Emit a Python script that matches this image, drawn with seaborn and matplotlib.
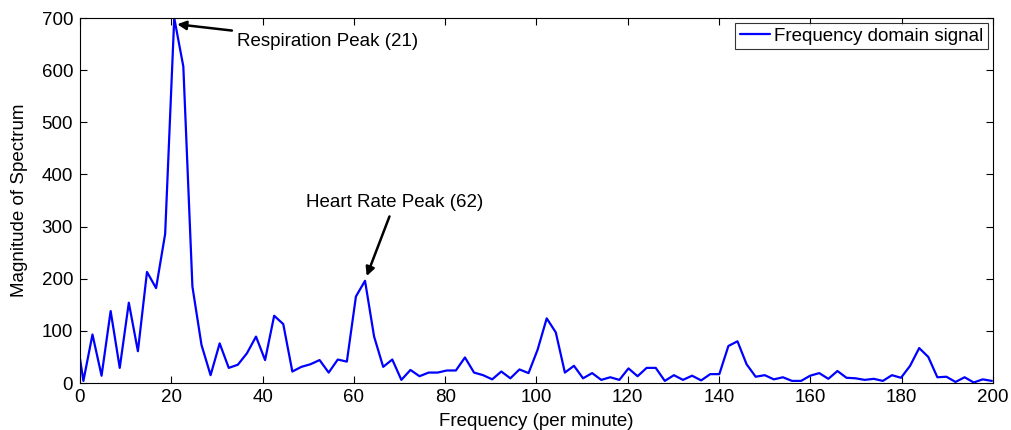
import matplotlib

matplotlib.use("Agg")
import matplotlib.pyplot as plt
import seaborn as sns

# frequency bins (per minute)
freq = [
    0.00, 0.75, 2.74, 4.73, 6.72, 8.71, 10.70, 12.69, 14.68, 16.67, 18.66,
    20.65, 22.64, 24.63, 26.62, 28.61, 30.60, 32.59, 34.58, 36.57, 38.56,
    40.55, 42.54, 44.53, 46.52, 48.51, 50.50, 52.49, 54.48, 56.47, 58.46,
    60.45, 62.44, 64.43, 66.42, 68.41, 70.40, 72.39, 74.38, 76.37, 78.36,
    80.35, 82.34, 84.33, 86.32, 88.31, 90.30, 92.29, 94.28, 96.27, 98.26,
    100.25, 102.24, 104.23, 106.22, 108.21, 110.20, 112.19, 114.18, 116.17, 118.16,
    120.15, 122.14, 124.13, 126.12, 128.11, 130.10, 132.09, 134.08, 136.07, 138.06,
    140.05, 142.04, 144.03, 146.02, 148.01, 150.00, 151.99, 153.98, 155.97, 157.96,
    159.95, 161.94, 163.93, 165.92, 167.91, 169.90, 171.89, 173.88, 175.87, 177.86,
    179.85, 181.84, 183.83, 185.82, 187.81, 189.80, 191.79, 193.78, 195.77, 197.76,
    199.75,
]

magnitude = [
    47, 4, 93, 14, 138, 29, 154, 61, 213, 182, 286,
    700, 607, 185, 73, 15, 76, 29, 35, 57, 89,
    44, 129, 113, 22, 31, 36, 44, 20, 45, 41,
    166, 196, 89, 31, 45, 6, 25, 13, 20, 20,
    24, 24, 49, 20, 15, 7, 22, 9, 26, 19,
    64, 124, 97, 20, 33, 9, 19, 6, 11, 6,
    28, 13, 29, 29, 4, 15, 6, 14, 5, 17,
    17, 71, 80, 36, 12, 15, 7, 11, 4, 4,
    14, 19, 8, 23, 10, 9, 6, 8, 4, 15,
    10, 33, 67, 50, 11, 12, 2, 11, 1, 7,
    4,
]

x_ticks = [0, 20, 40, 60, 80, 100, 120, 140, 160, 180, 200]
y_ticks = [0, 100, 200, 300, 400, 500, 600, 700]

FS = 13.5

sns.set_theme(style="ticks", rc={"text.color": "black", "axes.labelcolor": "black"})
plt.rcParams["font.family"] = ["Liberation Sans", "DejaVu Sans"]

fig = plt.figure(figsize=(10.11, 4.30), dpi=100)
ax = fig.add_axes([0.0791, 0.1093, 0.9031, 0.8488])

sns.lineplot(x=freq, y=magnitude, color="#0000FF", linewidth=1.6,
             label="Frequency domain signal", ax=ax)

ax.set_xlim(0, 200)
ax.set_ylim(0, 700)
ax.set_xticks(x_ticks)
ax.set_yticks(y_ticks)
ax.tick_params(direction="in", length=5, width=0.8, top=True, right=True,
               labelsize=FS, colors="black")
ax.tick_params(axis="x", pad=4)
ax.tick_params(axis="y", pad=5)
for side in ax.spines.values():
    side.set_visible(True)
    side.set_color("black")
    side.set_linewidth(0.8)

ax.set_xlabel("Frequency (per minute)", fontsize=FS, labelpad=5)
ax.set_ylabel("Magnitude of Spectrum", fontsize=FS, labelpad=10)

ax.annotate("Respiration Peak (21)", xy=(21.3, 688), xytext=(34.3, 655),
            fontsize=FS, va="center", ha="left",
            arrowprops=dict(arrowstyle="-|>", color="black", lw=1.8,
                            mutation_scale=13, shrinkA=1, shrinkB=0))
ax.annotate("Heart Rate Peak (62)", xy=(62.8, 205), xytext=(69, 347),
            fontsize=FS, va="center", ha="center",
            arrowprops=dict(arrowstyle="-|>", color="black", lw=1.8,
                            mutation_scale=13, shrinkA=2, shrinkB=0))

leg = ax.legend(loc="upper right", fontsize=FS, frameon=True, fancybox=False,
                borderaxespad=0.25, handlelength=1.6, handletextpad=0.25,
                borderpad=0.25)
leg.get_frame().set_edgecolor("black")
leg.get_frame().set_linewidth(0.8)

fig.savefig("out.png", dpi=100)
